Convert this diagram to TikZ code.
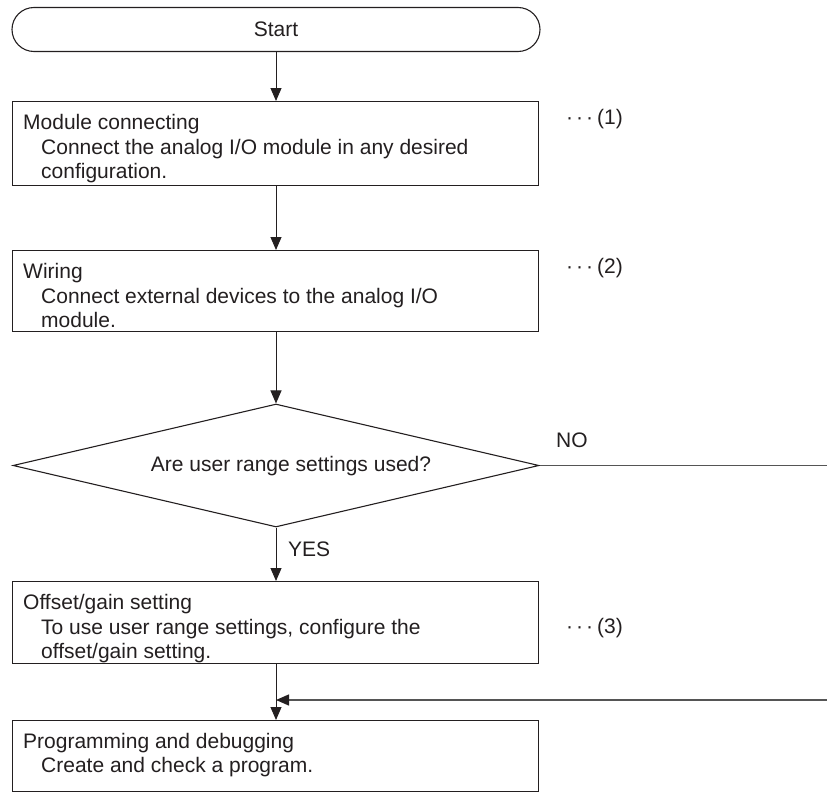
\documentclass[tikz,border=0pt]{standalone}
\usepackage{fontspec}
\setmainfont{Liberation Sans}
\usetikzlibrary{shapes.misc,shapes.geometric,arrows.meta,calc}
\definecolor{ink}{HTML}{231F20}
\definecolor{gline}{HTML}{555555}
\begin{document}
\begin{tikzpicture}[x=1pt,y=-1pt,
  every node/.style={font=\fontsize{21}{24.5}\selectfont, text=ink},
  boxstyle/.style={draw=ink, line width=1.1pt, minimum width=526pt, anchor=north west, inner sep=0pt, rectangle},
  txt/.style={anchor=north west, inner sep=0pt, align=left},
  conn/.style={draw=ink, line width=1pt, -{Triangle[width=11pt,length=13pt]}},
  graylink/.style={draw=gline, line width=1.4pt},
]
\useasboundingbox (0,0) rectangle (827,792);
% start terminator
\node[draw=ink, line width=1.1pt, rounded rectangle, minimum width=528pt, minimum height=44pt, inner sep=0pt] (start) at (276,29.5) {Start};
% boxes
\node[boxstyle, minimum height=84pt] (b1) at (12,101) {};
\node[boxstyle, minimum height=81pt] (b2) at (12,250) {};
\node[boxstyle, minimum height=82pt] (b3) at (12,581) {};
\node[boxstyle, minimum height=71pt] (b4) at (12,720) {};
% box texts
\node[txt] (t1) at (23,114.5) {Module connecting\\\hspace*{18pt}Connect the analog I/O module in any desired\\\hspace*{18pt}configuration.};
\node[txt] (t2) at (23,263.5) {Wiring\\\hspace*{18pt}Connect external devices to the analog I/O\\\hspace*{18pt}module.};
\node[txt] (t3) at (23,594.5) {Offset/gain setting\\\hspace*{18pt}To use user range settings, configure the\\\hspace*{18pt}offset/gain setting.};
\node[txt] (t4) at (23,733) {Programming and debugging\\\hspace*{18pt}Create and check a program.};
% side notes
\node[anchor=west, inner sep=0pt] (n1) at (566,119) {·\kern3pt·\kern3pt·\kern4pt(1)};
\node[anchor=west, inner sep=0pt] (n2) at (566,268) {·\kern3pt·\kern3pt·\kern4pt(2)};
\node[anchor=west, inner sep=0pt] (n3) at (566,628) {·\kern3pt·\kern3pt·\kern4pt(3)};
% decision
\node[draw=ink, line width=1.1pt, diamond, minimum width=526pt, minimum height=123pt, inner sep=0pt] (d) at (276,465.5) {};
\node[inner sep=0pt] (dt) at (291,466) {Are user range settings used?};
\node[anchor=west, inner sep=0pt] (no) at (556,440) {NO};
\node[anchor=west, inner sep=0pt] (yes) at (288,549) {YES};
\coordinate (rightend) at (827,465.5);
\coordinate (mergein) at (827,700);
\coordinate (mergept) at (276,700);
% connectors
\draw[conn] (start.south) -- (b1.north -| start.south);
\draw[conn] (b1.south -| start.south) -- (b2.north -| start.south);
\draw[conn] (b2.south -| start.south) -- (d.north);
\draw[conn] (d.south) -- (b3.north -| d.south);
\draw[conn] (b3.south -| d.south) -- (b4.north -| d.south);
\draw[graylink] (d.east) -- (rightend);
\draw[graylink, -{Triangle[width=11pt,length=13pt,color=ink]}] (mergein) -- (mergept);
\end{tikzpicture}
\end{document}
